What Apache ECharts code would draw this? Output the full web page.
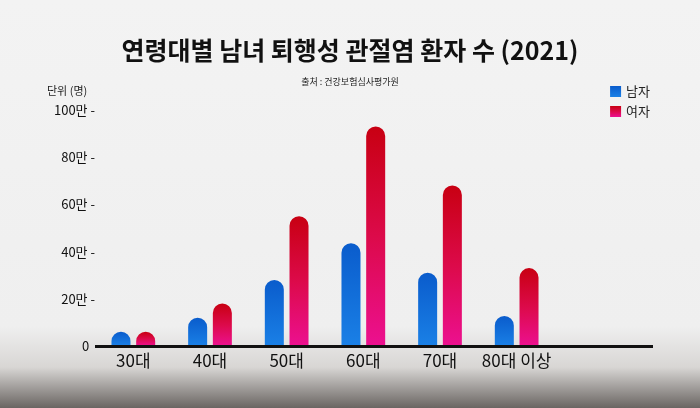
<!DOCTYPE html><html><head><meta charset="utf-8">
<script src="https://cdn.jsdelivr.net/npm/echarts@6/dist/echarts.min.js"></script>
<style>html,body{margin:0;padding:0;}body{width:700px;height:408px;background:linear-gradient(to bottom,#f3f3f3 0%,#efefef 80%,#d8d6d4 90%,#6a6562 100%);}#c{width:700px;height:408px;}</style>
</head><body><div id="c"></div><script>
const categories=['30대','40대','50대','60대','70대','80대 이상'];
const male=[6,12,28,43.5,31,12.7];
const female=[6,18,55,93,68,33];
const yTicks=[0,20,40,60,80,100];
const F='"Noto Sans CJK KR"';
const chart=echarts.init(document.getElementById('c'));
chart.setOption({
 backgroundColor:'transparent',
 title:[{text:'연령대별 남녀 퇴행성 관절염 환자 수 (2021)',left:'center',top:33,textStyle:{fontFamily:F,fontSize:25,fontWeight:'bold',color:'#111'}},
 {text:'출처 : 건강보험심사평가원',left:'center',top:72,textStyle:{fontFamily:F,fontSize:9,fontWeight:'normal',color:'#222'}},
 {text:'단위 (명)',left:42,top:80,textStyle:{fontFamily:F,fontSize:11,fontWeight:'normal',color:'#222'}}],
 legend:{orient:'vertical',right:45,top:80,itemWidth:11,itemHeight:11,itemGap:7,icon:'rect',textStyle:{fontFamily:F,fontSize:13,color:'#222'},data:['남자','여자']},
 grid:{left:95,top:110,width:460,height:236},
 xAxis:{type:'category',data:categories,axisLine:{show:false},axisTick:{show:false},axisLabel:{interval:0,fontFamily:F,fontSize:17,color:'#111',margin:6}},
 yAxis:{type:'value',min:0,max:100,interval:20,splitLine:{show:false},axisLine:{show:false},axisTick:{show:false},
  axisLabel:{fontFamily:F,fontSize:13,color:'#111',margin:0,formatter:v=>(v===0?'0  ':v+'만 -')}},
 graphic:[{type:'rect',shape:{x:95,y:345,width:558,height:3},style:{fill:'#111'},z:10}],
 series:[
  {name:'남자',type:'bar',data:male,barWidth:19,barGap:'30%',itemStyle:{borderRadius:[10,10,0,0],color:new echarts.graphic.LinearGradient(0,0,0,1,[{offset:0,color:'#0a5ccc'},{offset:1,color:'#1a80e6'}])}},
  {name:'여자',type:'bar',data:female,barWidth:19,itemStyle:{borderRadius:[10,10,0,0],color:new echarts.graphic.LinearGradient(0,0,0,1,[{offset:0,color:'#c80012'},{offset:0.5,color:'#dc0a4a'},{offset:1,color:'#ec1090'}])}}
 ]
});
</script></body></html>
